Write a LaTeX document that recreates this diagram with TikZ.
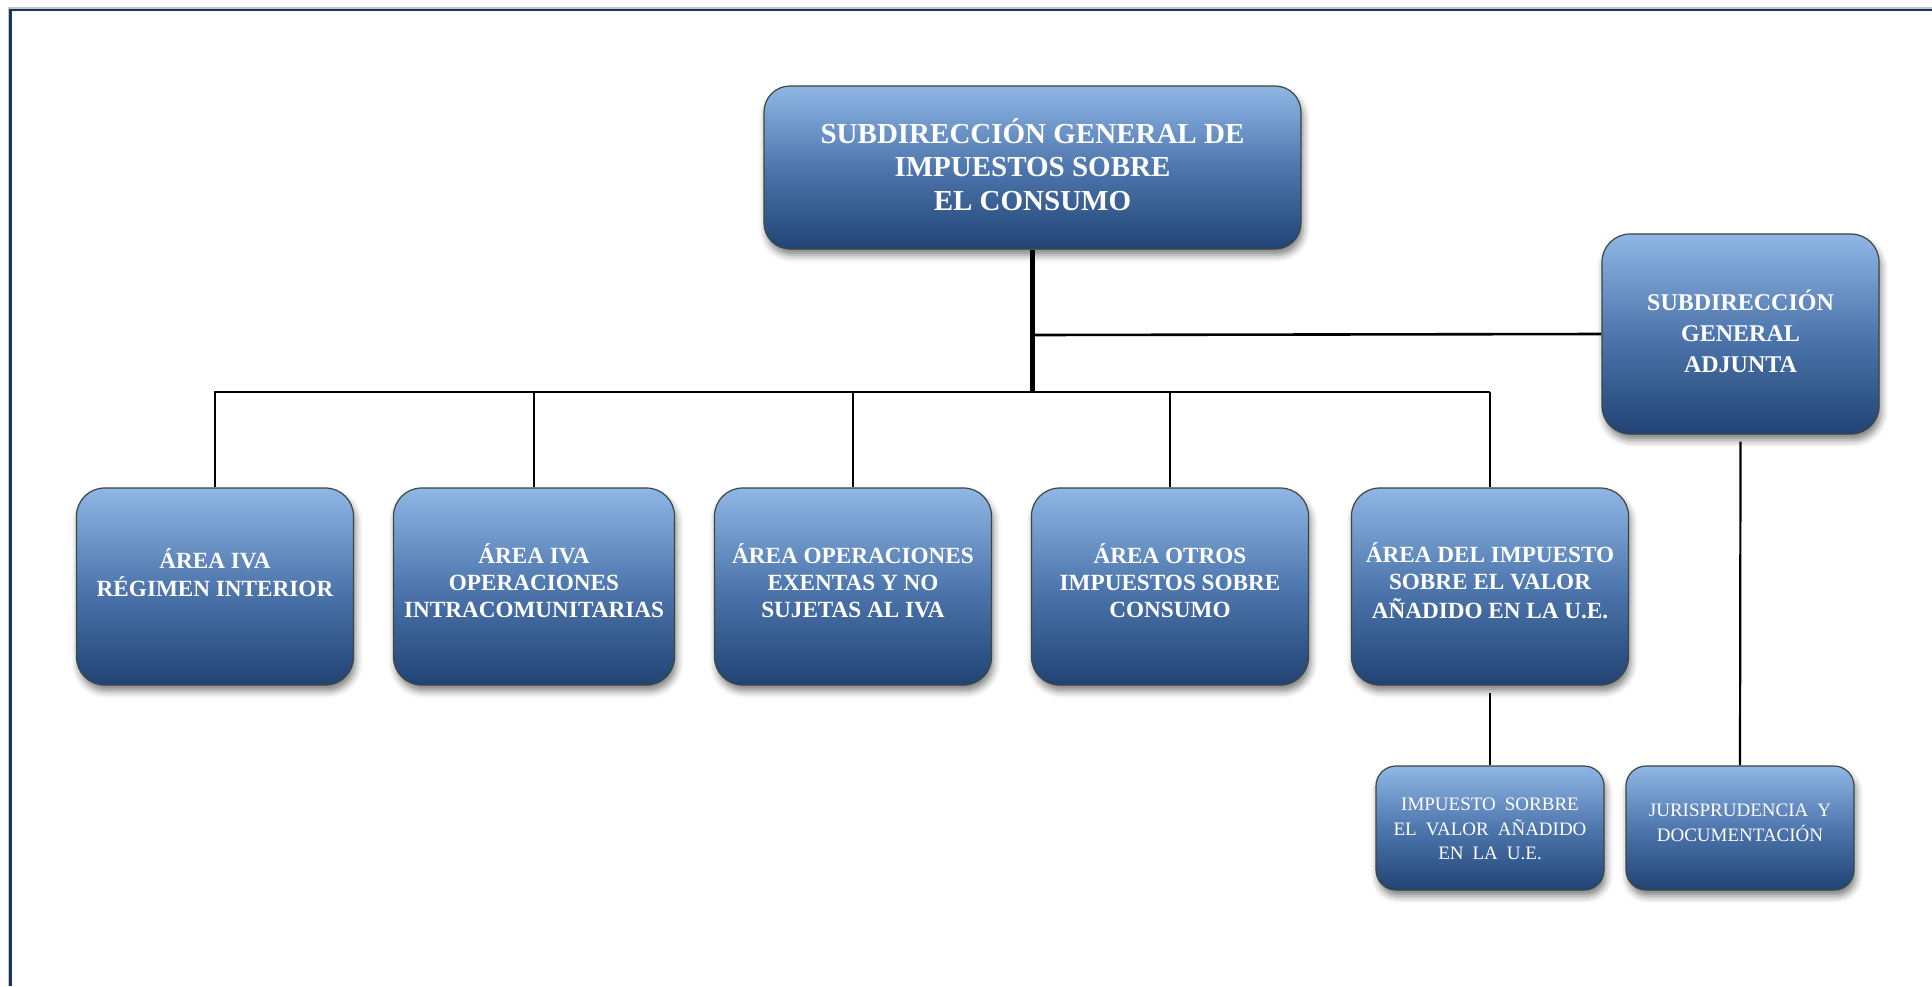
\documentclass[tikz,border=0pt]{standalone}
\usepackage{fontspec}
\setmainfont{Liberation Serif}
\newfontfamily\smallfont[WordSpace=1.9]{Liberation Serif}
\usetikzlibrary{shadows.blur,backgrounds}
\definecolor{boxtop}{RGB}{143,182,228}
\definecolor{boxmid}{RGB}{78,119,174}
\definecolor{boxbot}{RGB}{33,67,116}
\definecolor{boxedge}{RGB}{58,72,66}
\definecolor{navy}{RGB}{23,55,94}
\definecolor{edgegray}{RGB}{192,198,204}
\newcommand\boxtext[2]{\raisebox{#1}[0pt][0pt]{\begin{tabular}{@{}c@{}}#2\end{tabular}}}
\begin{document}
\begin{tikzpicture}[x=0.5pt,y=-0.5pt,
  box/.style={draw=boxedge, line width=0.6pt, rounded corners=13pt,
    top color=boxtop, bottom color=boxbot, middle color=boxmid,
    text=white, align=center, inner sep=0pt,
    blur shadow={shadow xshift=1pt, shadow yshift=-3pt, shadow blur radius=3.5pt, shadow opacity=50}},
  topbox/.style={box, minimum width=268.5pt, minimum height=81.5pt, rounded corners=13pt,
    font=\fontsize{14.5}{16.6}\selectfont\bfseries},
  adjbox/.style={box, minimum width=138.5pt, minimum height=100pt, rounded corners=14pt,
    font=\fontsize{12}{15.5}\selectfont\bfseries},
  areabox/.style={box, minimum width=138.5pt, minimum height=98.5pt, rounded corners=14pt,
    font=\fontsize{11.6}{13.6}\selectfont\bfseries},
  unitbox/.style={box, minimum width=114pt, minimum height=62pt, rounded corners=10pt,
    font=\smallfont\fontsize{9.5}{12.3}\selectfont},
  thickline/.style={line width=2.3pt},
  busline/.style={line width=1.3pt},
  dropline/.style={line width=1.1pt}
]
\useasboundingbox (0,0) rectangle (1932,986);
% page frame
\draw[edgegray, line width=0.7pt] (8.6,986) -- (8.6,7.8) -- (1932,7.8);
\draw[navy, line width=1.3pt] (10.7,986) -- (10.7,10) -- (1932,10);

\node[topbox] (top) at (1032.5,167.5) {\boxtext{-4.6pt}{SUBDIRECCIÓN GENERAL DE\\IMPUESTOS SOBRE\\EL CONSUMO}};
\node[adjbox] (adj) at (1740.5,334) {\boxtext{-3.6pt}{SUBDIRECCIÓN\\GENERAL\\ADJUNTA}};

\node[areabox] (a1) at (215,586.5) {\boxtext{2pt}{ÁREA IVA\\RÉGIMEN INTERIOR}};
\node[areabox, minimum width=140.5pt] (a2) at (534,586.5) {\boxtext{-2pt}{ÁREA IVA\\OPERACIONES\\INTRACOMUNITARIAS}};
\node[areabox] (a3) at (853,586.5) {\boxtext{-2pt}{ÁREA OPERACIONES\\EXENTAS Y NO\\SUJETAS AL IVA}};
\node[areabox] (a4) at (1170,586.5) {\boxtext{-2pt}{ÁREA OTROS\\IMPUESTOS SOBRE\\CONSUMO}};
\node[areabox] (a5) at (1490,586.5) {\boxtext{-2pt}{ÁREA DEL IMPUESTO\\SOBRE EL VALOR\\AÑADIDO EN LA U.E.}};

\node[unitbox] (u1) at (1490,828) {\boxtext{-3.4pt}{IMPUESTO SORBRE\\EL VALOR AÑADIDO\\EN LA U.E.}};
\node[unitbox] (u2) at (1740,828) {\boxtext{-0.4pt}{JURISPRUDENCIA Y\\DOCUMENTACIÓN}};

\coordinate (bus) at (1032.5,392);
\coordinate (branch) at (1032.5,335);

\begin{scope}[on background layer]
\draw[thickline] (top.south) -- (bus);
\draw[busline] (branch) -- (adj.west);
\draw[busline] (a1.north) -- (a1.north |- bus) -- (a5.north |- bus);
\draw[dropline] (a5.north |- bus) -- (a5.north);
\draw[dropline] (a2.north) -- (a2.north |- bus);
\draw[dropline] (a3.north) -- (a3.north |- bus);
\draw[dropline] (a4.north) -- (a4.north |- bus);
\draw[dropline] ([yshift=-3.5pt]a5.south) -- (u1.north);
\draw[dropline] ([yshift=-3.5pt]adj.south) -- (u2.north);
\end{scope}
\end{tikzpicture}
\end{document}
